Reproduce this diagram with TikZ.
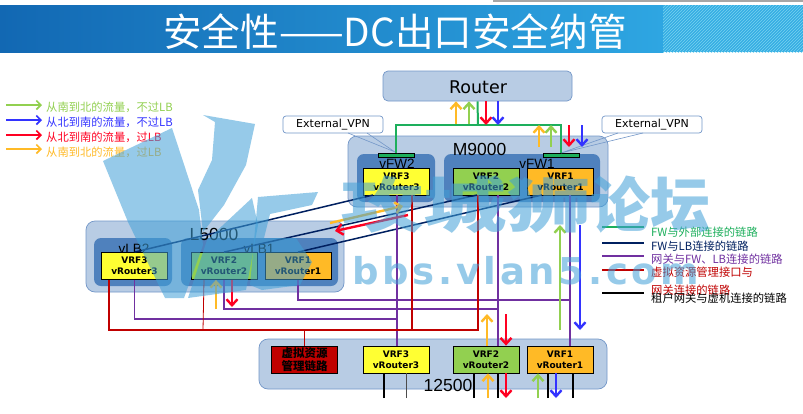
\documentclass[tikz,border=0pt]{standalone}
\usepackage{fontspec}
\setmainfont{DejaVu Sans}
\newfontfamily\cjk{Noto Sans CJK SC}
\newfontfamily\arial{Liberation Sans}
\newfontfamily\wmfont[LetterSpace=10]{DejaVu Sans}
\usetikzlibrary{arrows.meta,patterns}
\definecolor{boxblue}{HTML}{B8CCE4}
\definecolor{edgeblue}{HTML}{7397C8}
\definecolor{innerblue}{HTML}{4F81BD}
\definecolor{vyellow}{HTML}{FFFF33}
\definecolor{vgreen}{HTML}{92D050}
\definecolor{vorange}{HTML}{FFBA26}
\definecolor{linkgreen}{HTML}{1DAF5C}
\definecolor{linknavy}{HTML}{002060}
\definecolor{linkpurple}{HTML}{7030A0}
\definecolor{linkred}{HTML}{C00000}
\definecolor{flowblue}{HTML}{3333FF}
\definecolor{flowred}{HTML}{FF0022}
\definecolor{wmblue}{RGB}{64,160,215}
\definecolor{barleft}{RGB}{18,104,179}
\definecolor{barright}{RGB}{46,166,226}
\definecolor{stripebase}{RGB}{53,173,228}
\definecolor{stripeline}{RGB}{120,210,240}
\begin{document}
\begin{tikzpicture}[x=1pt,y=-1pt]
	\tikzstyle{device} = [rectangle, rounded corners=9pt, draw=edgeblue, fill=boxblue, line width=0.7pt, inner sep=0]
	\tikzstyle{slice} = [rectangle, rounded corners=7pt, fill=innerblue, inner sep=0]
	\tikzstyle{vrf} = [rectangle, draw=black, line width=0.8pt, minimum width=66pt, minimum height=27pt, inner sep=0, align=center, font=\fontsize{9}{11}\selectfont\bfseries]
	\tikzstyle{bigname} = [font=\arial\fontsize{17.5}{18}\selectfont, inner sep=0]
	\tikzstyle{midname} = [font=\arial\fontsize{13.5}{14}\selectfont, inner sep=0]
	\tikzstyle{callout} = [rectangle, rounded corners=3pt, draw=edgeblue, fill=white, line width=0.7pt, minimum width=100pt, minimum height=17pt, inner sep=0, font=\fontsize{11}{12}\selectfont]
	\tikzstyle{tail} = [draw=edgeblue, line width=0.6pt]
	\tikzstyle{bar} = [rectangle, draw=black, line width=0.6pt, fill=linkgreen, minimum width=36pt, minimum height=4pt, inner sep=0]
	\tikzstyle{legend} = [anchor=west, inner sep=0, font=\cjk\fontsize{11.3}{12}\selectfont]
	\tikzstyle{flow} = [line width=2.4pt, -{Straight Barb[length=6pt,width=11pt,line width=2.4pt]}]
	\tikzstyle{ext} = [linkgreen, line width=2pt]
	\tikzstyle{fwlb} = [linknavy, line width=1.5pt]
	\tikzstyle{gw} = [linkpurple, line width=1.8pt]
	\tikzstyle{mgmt} = [linkred, line width=1.8pt]
	\tikzstyle{tenant} = [black, line width=2pt]
	\tikzstyle{watermark} = [wmblue, opacity=0.55]
	\useasboundingbox (0,0) rectangle (803,413);
	% title bar
	\fill[white] (0,0) rectangle (803,413);
	\fill[black!35] (493,0) rectangle (803,1.5);
	\shade[left color=barleft, right color=barright] (0,5) rectangle (663,52);
	\fill[stripebase] (663,5) rectangle (803,52);
	\fill[pattern=north east lines, pattern color=stripeline] (663,5) rectangle (803,52);
	\node[inner sep=0, text=white, font=\cjk\fontsize{38.6}{40}\selectfont](title)at (395,32){安全性——DC出口安全纳管};
	% devices
	\node[device, minimum width=189pt, minimum height=30pt, rounded corners=5pt](router)at (477.5,86){};
	\node[inner sep=0, font=\fontsize{17.5}{18}\selectfont](routername)at (478,87){Router};
	\node[device, minimum width=260pt, minimum height=71pt](m9000)at (478,171.5){};
	\node[device, minimum width=258pt, minimum height=71pt](l5000)at (215,256.5){};
	\node[device, minimum width=348pt, minimum height=50pt](n12500)at (433,364){};
	\node[slice, minimum width=78pt, minimum height=48pt](vfw2)at (396,178){};
	\node[slice, minimum width=156pt, minimum height=48pt](vfw1)at (522,178){};
	\node[slice, minimum width=78pt, minimum height=48pt](vlb2)at (133,262){};
	\node[slice, minimum width=157pt, minimum height=48pt](vlb1)at (259.5,262){};
	\node[bigname](m9000name)at (479.5,149.5){M9000};
	\node[bigname](l5000name)at (214,234.5){L5000};
	\node[bigname](n12500name)at (448,385){12500};
	\node[midname](vfw2name)at (397,164){vFW2};
	\node[midname](vfw1name)at (537,164){vFW1};
	\node[midname](vlb2name)at (134,249){vLB2};
	\node[midname](vlb1name)at (259,249){vLB1};
	\node[vrf,fill=vyellow](m3)at (396.5,181.5){VRF3\\vRouter3};
	\node[vrf,fill=vgreen](m2)at (486,181.5){VRF2\\vRouter2};
	\node[vrf,fill=vorange](m1)at (560.5,181.5){VRF1\\vRouter1};
	\node[vrf,fill=vyellow](l3)at (134.5,266){VRF3\\vRouter3};
	\node[vrf,fill=vgreen](l2)at (224,266){VRF2\\vRouter2};
	\node[vrf,fill=vorange](l1)at (298,266){VRF1\\vRouter1};
	\node[vrf,fill=vyellow](g3)at (396,359.5){VRF3\\vRouter3};
	\node[vrf,fill=vgreen](g2)at (486,359.5){VRF2\\vRouter2};
	\node[vrf,fill=vorange](g1)at (560,359.5){VRF1\\vRouter1};
	\node[vrf,fill=linkred,font=\cjk\fontsize{11.5}{13}\selectfont\bfseries](mgr)at (304.5,359.5){虚拟资源\\管理链路};
	% external links
	\node[bar](barL)at (396,155){};
	\node[bar](barR)at (561,155){};
	\node[callout](vpnL)at (333,124.5){External\_VPN};
	\node[callout](vpnR)at (652,124.5){External\_VPN};
	\coordinate (tipL) at (395,152);
	\coordinate (tipR) at (561,153);
	\draw[tail] (348,133) -- (tipL) -- (367,133);
	\draw[tail] (618,133) -- (tipR) -- (643,133);
	\coordinate (extjoin) at (478,125);
	\draw[ext] (barL.north) |- (extjoin) -| (barR.north);
	\path[ext] (extjoin) edge (router.south);
	% fw to lb links
	\coordinate (fw3foot) at (373,195);
	\coordinate (fw2foot) at (477,195);
	\coordinate (fw1foot) at (542,195);
	\path[fwlb] (l3.north) edge (fw3foot)
	(l2.north) edge (fw2foot)
	(l1.north) edge (fw1foot);
	% gateway links
	\coordinate (gw3bus) at (397,319);
	\coordinate (gw2bus) at (498,309);
	\coordinate (gw1bus) at (570,300);
	\draw[gw] (m3.south -| gw3bus) -- (g3.north -| gw3bus);
	\draw[gw] (m2.south -| gw2bus) -- (g2.north -| gw2bus);
	\draw[gw] (m1.south -| gw1bus) -- (g1.north -| gw1bus);
	\draw[gw] (l3.south) |- (gw3bus);
	\draw[gw] (l2.south) |- (gw2bus);
	\draw[gw] (l1.south) |- (gw1bus);
	% management links
	\coordinate (mbusL) at (109,330);
	\coordinate (mbusR) at (478,330);
	\coordinate (mbusA) at (203,330);
	\coordinate (mbusB) at (412,330);
	\coordinate (ml3) at (109,280);
	\coordinate (ml2) at (204,280);
	\coordinate (mm3) at (412,195);
	\coordinate (mm2) at (478,195);
	\draw[mgmt] (ml3) -- (mbusL) -- (mbusR) -- (mm2);
	\draw[mgmt] (mbusB) -- (mm3);
	\draw[linkred, line width=0.8pt] (ml2) -- (mbusA);
	\draw[mgmt] (mgr.north) -- (mgr.north |- mbusL);
	% tenant links
	\coordinate (t1) at (384,398);
	\coordinate (t2) at (406,398);
	\coordinate (t3) at (474,398);
	\coordinate (t4) at (498,398);
	\coordinate (t5) at (548,398);
	\coordinate (t6) at (573,398);
	\draw[tenant] (t1) -- (t1 |- g3.south);
	\draw[black!70, line width=1pt] (t2) -- (t2 |- g3.south);
	\draw[tenant] (t3) -- (t3 |- g2.south);
	\draw[tenant] (t4) -- (t4 |- g2.south);
	\draw[tenant] (t5) -- (t5 |- g1.south);
	\draw[tenant] (t6) -- (t6 |- g1.south);
	% traffic arrows
	\coordinate (ra) at (456,124);
	\coordinate (rb) at (469,124);
	\coordinate (rc) at (486,125);
	\coordinate (rd) at (498,125);
	\path[flow,vorange] (ra) edge (ra |- router.south);
	\path[flow,vgreen] (rb) edge (rb |- router.south);
	\path[flow,flowred] (rc |- router.south) edge (rc);
	\path[flow,flowblue] (rd |- router.south) edge (rd);
	\coordinate (fa) at (539,147);
	\coordinate (fb) at (551,147);
	\coordinate (fc) at (569,147);
	\coordinate (fd) at (582,147);
	\coordinate (ftop) at (560,125);
	\path[flow,vorange] (fa) edge (fa |- ftop);
	\path[flow,vgreen] (fb) edge (fb |- ftop);
	\path[flow,flowred] (fc |- ftop) edge (fc);
	\path[flow,flowblue] (fd |- ftop) edge (fd);
	\coordinate (oa) at (330,223);
	\coordinate (ob) at (403,206);
	\coordinate (oc) at (408,215);
	\coordinate (od) at (335,231);
	\path[flow,vorange] (oa) edge (ob);
	\path[flow,flowred] (oc) edge (od);
	\coordinate (la) at (216,309);
	\coordinate (lb) at (232,307);
	\path[flow,vorange] (la) edge (la |- l2.south);
	\path[flow,flowred] (lb |- l2.south) edge (lb);
	\coordinate (ga) at (487,314);
	\coordinate (gb) at (506,314);
	\path[flow,vorange] (ga |- g2.north) edge (ga);
	\path[flow,flowred] (gb) edge (gb |- g2.north);
	\coordinate (gc) at (488,398);
	\coordinate (gd) at (506,398);
	\coordinate (ge) at (538,398);
	\coordinate (gf) at (556,398);
	\path[flow,vorange] (gc) edge (gc |- g2.south);
	\path[flow,flowred] (gd |- g2.south) edge (gd);
	\path[flow,vgreen] (ge) edge (ge |- g1.south);
	\path[flow,flowblue] (gf |- g1.south) edge (gf);
	\coordinate (ha) at (560,330);
	\coordinate (hb) at (560,225);
	\coordinate (hc) at (580,225);
	\coordinate (hd) at (580,330);
	\path[flow,vgreen] (ha) edge (hb);
	\path[flow,flowblue] (hc) edge (hd);
	% legend on the left
	\node[legend,text=vgreen](lgA)at (46,107){从南到北的流量，不过LB};
	\node[legend,text=flowblue](lgB)at (46,122){从北到南的流量，不过LB};
	\node[legend,text=flowred](lgC)at (46,137){从北到南的流量，过LB};
	\node[legend,text=vorange](lgD)at (46,152){从南到北的流量，过LB};
	\coordinate (lgAs) at (6,105);
	\coordinate (lgBs) at (6,120);
	\coordinate (lgCs) at (6,135);
	\coordinate (lgDs) at (6,149);
	\tikzstyle{keyflow} = [line width=1.6pt, shorten >=4pt, -{Straight Barb[length=4.5pt,width=9pt,line width=1.6pt]}]
	\path[keyflow,vgreen] (lgAs) edge (lgAs -| lgA.west);
	\path[keyflow,flowblue] (lgBs) edge (lgBs -| lgB.west);
	\path[keyflow,flowred] (lgCs) edge (lgCs -| lgC.west);
	\path[keyflow,vorange] (lgDs) edge (lgDs -| lgD.west);
	% legend on the right
	\node[legend,text=linkgreen](keyA)at (651,232){FW与外部连接的链路};
	\node[legend,text=linknavy](keyB)at (651,246){FW与LB连接的链路};
	\node[legend,text=linkpurple](keyC)at (651,259){网关与FW、LB连接的链路};
	\node[legend,text=linkred](keyD)at (651,272){虚拟资源管理接口与};
	\node[legend,text=linkred](keyE)at (651,290){网关连接的链路};
	\node[legend,text=black](keyF)at (651,298){租户网关与虚机连接的链路};
	\coordinate (keyAs) at (602,227);
	\coordinate (keyBs) at (602,243);
	\coordinate (keyCs) at (602,256);
	\coordinate (keyDs) at (602,270);
	\coordinate (keyFs) at (602,293);
	\path[shorten >=7pt, line width=1.6pt] (keyAs) edge[linkgreen] (keyAs -| keyA.west)
	(keyBs) edge[linknavy] (keyBs -| keyB.west)
	(keyCs) edge[linkpurple] (keyCs -| keyC.west)
	(keyDs) edge[linkred] (keyDs -| keyD.west)
	(keyFs) edge[black] (keyFs -| keyF.west);
	% watermark
	\fill[watermark] (103,161) -- (172,128) -- (199,210) -- (203,245) -- (184,298) -- (165,298) -- (128,222) -- cycle;
	\fill[watermark] (203,115) -- (255,124) -- (246,165) -- (224,205) -- (203,232) -- (198,190) -- (212,160) -- (215,122) -- cycle;
	\fill[watermark] (188,298) -- (207,240) -- (252,198) -- (258,225) -- (246,290) -- cycle;
	\fill[watermark] (258,197) -- (318,192) -- (312,205) -- (270,214) -- (264,238) -- (296,238) -- (312,262) -- (300,285) -- (262,290) -- (250,285) -- cycle;
	\node[anchor=west, inner sep=0, wmblue, text opacity=0.55, xscale=1.39, font=\cjk\fontsize{60}{62}\selectfont\bfseries](wmcna)at (340,205){攻城狮};
	\node[anchor=west, inner sep=0, wmblue, text opacity=0.55, font=\cjk\fontsize{60}{62}\selectfont\bfseries](wmcnb)at (590,205){论坛};
	\node[anchor=west, inner sep=0, wmblue, text opacity=0.55, font=\wmfont\fontsize{37}{40}\selectfont\bfseries](wmurl)at (352,271){bbs.vlan5.com};
\end{tikzpicture}
\end{document}
